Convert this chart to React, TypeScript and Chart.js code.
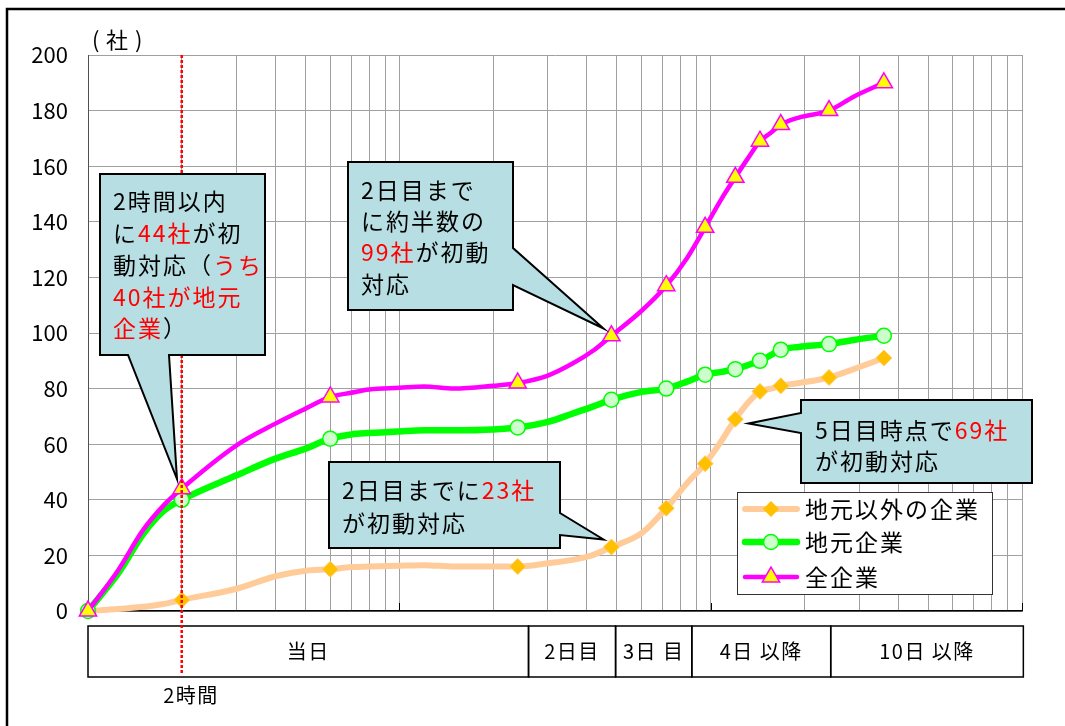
import React, { useEffect, useRef } from "react";
import { Chart, registerables } from "chart.js";

Chart.register(...registerables);

// ---- data (x = elapsed hours, log axis) ----
const hours = [1, 1.25, 1.5, 1.75, 2, 3, 4, 5, 6, 7, 8, 10, 12, 15, 20, 24, 30, 36, 42, 48, 60, 72, 84, 96, 108, 120, 132, 144, 156, 168, 192, 240, 288, 360];
const localOther = [0, 0.7, 1.5, 2.5, 4, 8, 12.5, 14.5, 15, 15.8, 16, 16.3, 16.5, 16, 16, 16, 17.2, 18.4, 20.2, 23, 28, 37, 46, 53, 61, 69, 75, 79, 80, 81, 82, 84, 87, 91];
const localFirms = [0, 13.5, 27.5, 36, 40, 48.8, 54.8, 58.4, 62, 63.5, 64, 64.6, 65, 65, 65.3, 66, 68, 71, 73.6, 76, 78.8, 80, 82.5, 85, 86, 87, 88.5, 90, 92, 94, 95, 96, 97.5, 99];
const allFirms = [0, 14.7, 29, 38, 44, 59.6, 67.4, 72.8, 77, 78.5, 79.7, 80.3, 80.8, 80, 81, 82, 84.7, 89, 93.7, 99, 108, 117, 127, 138, 148, 156, 163, 169, 172, 175, 177.5, 180, 185, 190];
const markerHours = [1, 2, 6, 24, 48, 72, 96, 120, 144, 168, 240, 360];
const seriesNames = ["地元以外の企業", "地元企業", "全企業"];
const yTickValues = [0, 20, 40, 60, 80, 100, 120, 140, 160, 180, 200];
const xGridValues = [1, 2, 3, 4, 5, 6, 7, 8, 9, 10, 20, 30, 40, 50, 60, 70, 80, 90, 100, 200, 300, 400, 500, 600, 700, 800, 900, 1000];
const phaseLabels = ["当日", "2日目", "3日 目", "4日 以降", "10日 以降"];
const phaseEdges = [1, 26, 49.5, 87, 243, 1010];
const markedHour = 2;
const markedHourLabel = "2時間";
const yUnitParts = ["(", "社", ")"];

const K = "#000000";
const R = "#FF0000";
type Seg = [string, string];
const note1: Seg[][] = [
  [["2時間以内", K]],
  [["に", K], ["44社", R], ["が初", K]],
  [["動対応（", K], ["うち", R]],
  [["40社が地元", R]],
  [["企業", R], ["）", K]],
];
const note2: Seg[][] = [
  [["2日目まで", K]],
  [["に約半数の", K]],
  [["99社", R], ["が初動", K]],
  [["対応", K]],
];
const note3: Seg[][] = [
  [["2日目までに", K], ["23社", R]],
  [["が初動対応", K]],
];
const note4: Seg[][] = [
  [["5日目時点で", K], ["69社", R]],
  [["が初動対応", K]],
];

const FONT_FAMILY = "'Noto Sans CJK JP', 'Noto Sans', sans-serif";
const BOX_FILL = "#B7DEE2";

const ORANGE = "#FFCC99";
const ORANGE_MK = "#FFC000";
const GREEN = "#00FF00";
const GREEN_MK = "#CCFFCC";
const PINK = "#FF00FF";
const YELLOW = "#FFFF00";

function drawSegs(ctx: CanvasRenderingContext2D, x: number, y: number, segs: Seg[], font: string, spacing: string) {
  ctx.font = font;
  (ctx as any).letterSpacing = spacing;
  ctx.textBaseline = "middle";
  ctx.textAlign = "left";
  let cx = x;
  for (const [t, c] of segs) {
    ctx.fillStyle = c;
    ctx.fillText(t, cx, y);
    cx += ctx.measureText(t).width;
  }
}

function drawCallout(ctx: CanvasRenderingContext2D, pts: number[][]) {
  ctx.save();
  ctx.beginPath();
  ctx.moveTo(pts[0][0], pts[0][1]);
  for (let i = 1; i < pts.length; i++) ctx.lineTo(pts[i][0], pts[i][1]);
  ctx.closePath();
  ctx.fillStyle = BOX_FILL;
  ctx.fill();
  ctx.lineWidth = 2;
  ctx.strokeStyle = "#000";
  ctx.lineJoin = "miter";
  ctx.stroke();
  ctx.restore();
}

function drawMarker(ctx: CanvasRenderingContext2D, kind: string, x: number, y: number) {
  ctx.save();
  ctx.beginPath();
  if (kind === "diamond") {
    const r = 8;
    ctx.moveTo(x, y - r);
    ctx.lineTo(x + r, y);
    ctx.lineTo(x, y + r);
    ctx.lineTo(x - r, y);
    ctx.closePath();
    ctx.fillStyle = ORANGE_MK;
    ctx.fill();
  } else if (kind === "circle") {
    ctx.arc(x, y, 7.5, 0, Math.PI * 2);
    ctx.fillStyle = GREEN_MK;
    ctx.fill();
    ctx.lineWidth = 1.5;
    ctx.strokeStyle = GREEN;
    ctx.stroke();
  } else {
    const r = 10;
    ctx.moveTo(x, y - r);
    ctx.lineTo(x + r * 0.866, y + r * 0.5);
    ctx.lineTo(x - r * 0.866, y + r * 0.5);
    ctx.closePath();
    ctx.fillStyle = YELLOW;
    ctx.fill();
    ctx.lineWidth = 1.5;
    ctx.strokeStyle = PINK;
    ctx.stroke();
  }
  ctx.restore();
}

const overlayPlugin = {
  id: "overlay",
  afterDraw(chart: any) {
    const ctx: CanvasRenderingContext2D = chart.ctx;
    const xs = chart.scales.x;
    const area = chart.chartArea;
    ctx.save();

    // decade tick marks on the x axis (inside)
    ctx.strokeStyle = "#000";
    ctx.lineWidth = 1;
    for (const v of [10, 100, 1000]) {
      const px = Math.round(xs.getPixelForValue(v)) + 0.5;
      ctx.beginPath();
      ctx.moveTo(px, area.bottom - 8);
      ctx.lineTo(px, area.bottom);
      ctx.stroke();
    }

    // phase boxes under the axis
    const top = 626, bottom = 677;
    ctx.lineWidth = 1.5;
    ctx.strokeStyle = "#000";
    for (let i = 0; i < phaseLabels.length; i++) {
      const l = xs.getPixelForValue(phaseEdges[i]);
      const r = xs.getPixelForValue(phaseEdges[i + 1]);
      ctx.strokeRect(l, top, r - l, bottom - top);
      ctx.font = `20px ${FONT_FAMILY}`;
      (ctx as any).letterSpacing = "1.5px";
      ctx.fillStyle = "#000";
      ctx.textAlign = "center";
      ctx.textBaseline = "middle";
      ctx.fillText(phaseLabels[i], (l + r) / 2, (top + bottom) / 2);
    }

    // red dotted line at 2 hours
    const mx = xs.getPixelForValue(markedHour);
    ctx.save();
    ctx.strokeStyle = "#FF0000";
    ctx.lineWidth = 2.5;
    ctx.setLineDash([3, 2]);
    ctx.beginPath();
    ctx.moveTo(mx, area.top);
    ctx.lineTo(mx, 673);
    ctx.stroke();
    ctx.restore();
    ctx.font = `20px ${FONT_FAMILY}`;
    (ctx as any).letterSpacing = "1.5px";
    ctx.fillStyle = "#000";
    ctx.textAlign = "center";
    ctx.textBaseline = "middle";
    ctx.fillText(markedHourLabel, 191, 695);

    // y unit label
    ctx.textAlign = "left";
    (ctx as any).letterSpacing = "0px";
    ctx.font = `22px ${FONT_FAMILY}`;
    ctx.fillText(yUnitParts[0], 92, 40);
    ctx.fillText(yUnitParts[1], 106, 40);
    ctx.fillText(yUnitParts[2], 135, 40);

    // callouts
    const F = `23px ${FONT_FAMILY}`;
    const SP = "2px";
    drawCallout(ctx, [[100, 174], [265, 174], [265, 355], [169, 355], [177, 479], [128, 355], [100, 355]]);
    const n1y = [201, 233, 265, 297, 328];
    note1.forEach((segs, i) => drawSegs(ctx, 113, n1y[i], segs, F, SP));

    drawCallout(ctx, [[348, 162], [513, 162], [513, 248], [603.5, 328.5], [513, 285], [513, 310], [348, 310]]);
    const n2y = [190, 221, 252, 284];
    note2.forEach((segs, i) => drawSegs(ctx, 361, n2y[i], segs, F, SP));

    drawCallout(ctx, [[329, 462], [560, 462], [560, 513], [603.5, 539.5], [560, 535], [560, 548], [329, 548]]);
    const n3y = [490, 523];
    note3.forEach((segs, i) => drawSegs(ctx, 342, n3y[i], segs, F, SP));

    drawCallout(ctx, [[801, 400], [1032, 400], [1032, 483], [801, 483], [801, 433], [748.5, 423.5], [801, 413]]);
    const n4y = [430, 461];
    note4.forEach((segs, i) => drawSegs(ctx, 815, n4y[i], segs, F, SP));

    // legend
    ctx.fillStyle = "#fff";
    ctx.fillRect(737, 492, 256, 103);
    ctx.lineWidth = 1;
    ctx.strokeStyle = "#333";
    ctx.strokeRect(737.5, 492.5, 255, 102);
    const legY = [509, 542, 577];
    const legColors = [ORANGE, GREEN, PINK];
    const legWidths = [6, 6.5, 4.5];
    const legKinds = ["diamond", "circle", "triangle"];
    for (let i = 0; i < 3; i++) {
      ctx.strokeStyle = legColors[i];
      ctx.lineWidth = legWidths[i];
      ctx.lineCap = "round";
      ctx.beginPath();
      ctx.moveTo(745, legY[i]);
      ctx.lineTo(797, legY[i]);
      ctx.stroke();
      drawMarker(ctx, legKinds[i], 771, legY[i]);
      drawSegs(ctx, 805, legY[i], [[seriesNames[i], "#000"]], F, SP);
    }

    // outer frame
    ctx.lineWidth = 2.5;
    ctx.strokeStyle = "#000";
    ctx.strokeRect(7, 9, 1200, 900);
    ctx.restore();
  },
};

function markerRadius(r: number) {
  return (c: any) => (markerHours.includes(hours[c.dataIndex]) ? r : 0);
}

export default function App() {
  const ref = useRef<HTMLCanvasElement | null>(null);
  useEffect(() => {
    if (!ref.current) return;
    const toXY = (vals: number[]) => hours.map((h, i) => ({ x: h, y: vals[i] }));
    const chart = new Chart(ref.current, {
      type: "line",
      data: {
        datasets: [
          {
            label: seriesNames[2],
            data: toXY(allFirms),
            borderColor: PINK,
            borderWidth: 4.5,
            pointStyle: "triangle",
            pointRadius: markerRadius(10),
            pointBackgroundColor: YELLOW,
            pointBorderColor: PINK,
            pointBorderWidth: 1.5,
            cubicInterpolationMode: "monotone",
            clip: false,
            order: 0,
          },
          {
            label: seriesNames[1],
            data: toXY(localFirms),
            borderColor: GREEN,
            borderWidth: 6.5,
            pointStyle: "circle",
            pointRadius: markerRadius(7.5),
            pointBackgroundColor: GREEN_MK,
            pointBorderColor: GREEN,
            pointBorderWidth: 1.5,
            cubicInterpolationMode: "monotone",
            clip: false,
            order: 1,
          },
          {
            label: seriesNames[0],
            data: toXY(localOther),
            borderColor: ORANGE,
            borderWidth: 6,
            pointStyle: "rectRot",
            pointRadius: markerRadius(8),
            pointBackgroundColor: ORANGE_MK,
            pointBorderColor: "#FFCC66",
            pointBorderWidth: 1,
            cubicInterpolationMode: "monotone",
            clip: false,
            order: 2,
          },
        ],
      },
      options: {
        animation: false,
        responsive: false,
        events: [],
        layout: { padding: { left: 0, right: 43, top: 55, bottom: 115 } },
        plugins: { legend: { display: false }, tooltip: { enabled: false } },
        scales: {
          x: {
            type: "logarithmic",
            min: 1,
            max: 1000,
            afterBuildTicks: (s: any) => {
              s.ticks = xGridValues.map((v) => ({ value: v }));
            },
            afterFit: (s: any) => {
              s.height = 0;
            },
            ticks: { display: false },
            grid: { color: "#A0A0A0", lineWidth: 1, drawTicks: false },
            border: { color: "#000", width: 1.5 },
          },
          y: {
            min: 0,
            max: 200,
            afterBuildTicks: (s: any) => {
              s.ticks = yTickValues.map((v) => ({ value: v }));
            },
            afterFit: (s: any) => {
              s.width = 88;
            },
            ticks: {
              color: "#000",
              padding: 20,
              font: { family: FONT_FAMILY, size: 22 },
            },
            grid: { color: "#A0A0A0", lineWidth: 1, drawTicks: false },
            border: { color: "#505050", width: 1 },
          },
        },
      },
      plugins: [overlayPlugin],
    } as any);
    return () => chart.destroy();
  }, []);
  return (
    <div style={{ position: "absolute", left: 0, top: 0, width: 1065, height: 726, background: "#fff" }}>
      <canvas ref={ref} width={1065} height={726} style={{ display: "block" }} />
    </div>
  );
}
